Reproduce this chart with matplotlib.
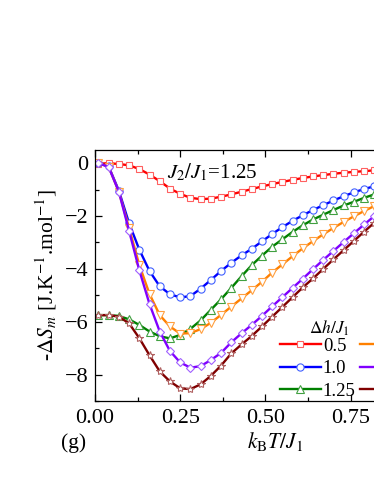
import matplotlib
matplotlib.use("Agg")
import matplotlib.pyplot as plt
from matplotlib.ticker import MultipleLocator

plt.rcParams['font.family'] = ['Liberation Serif', 'DejaVu Serif']
plt.rcParams['mathtext.fontset'] = 'stix'

T = [0.01, 0.04, 0.07, 0.10, 0.13, 0.16, 0.19, 0.22, 0.25, 0.28, 0.31, 0.34, 0.37, 0.40,
     0.43, 0.46, 0.49, 0.52, 0.55, 0.58, 0.61, 0.64, 0.67, 0.70, 0.73, 0.76, 0.79, 0.82]

s_05 = [-0.02, 0.0, -0.03, -0.08, -0.22, -0.43, -0.68, -0.96, -1.16, -1.31, -1.36, -1.34, -1.27, -1.18,
        -1.08, -0.98, -0.88, -0.79, -0.71, -0.63, -0.56, -0.50, -0.45, -0.40, -0.36, -0.33, -0.30, -0.27]
s_10 = [0.0, -0.12, -1.04, -2.27, -3.27, -4.08, -4.66, -4.96, -5.08, -5.03, -4.75, -4.42, -4.08, -3.77,
        -3.49, -3.24, -2.96, -2.68, -2.42, -2.18, -1.97, -1.77, -1.59, -1.41, -1.25, -1.10, -0.98, -0.87]
s_125 = [-5.75, -5.75, -5.78, -5.91, -6.12, -6.37, -6.55, -6.63, -6.50, -6.27, -5.95, -5.55, -5.15, -4.72,
         -4.28, -3.86, -3.50, -3.16, -2.88, -2.60, -2.35, -2.13, -1.95, -1.77, -1.60, -1.46, -1.31, -1.18]
s_15 = [0.0, -0.13, -1.08, -2.45, -3.85, -4.95, -5.75, -6.18, -6.45, -6.43, -6.28, -6.04, -5.74, -5.43,
        -5.12, -4.81, -4.49, -4.14, -3.83, -3.52, -3.22, -2.95, -2.69, -2.45, -2.22, -2.01, -1.81, -1.62]
s_20 = [0.0, -0.14, -1.08, -2.56, -4.05, -5.33, -6.37, -7.11, -7.54, -7.74, -7.68, -7.45, -7.18, -6.78,
        -6.44, -6.12, -5.78, -5.42, -5.07, -4.72, -4.37, -4.01, -3.66, -3.32, -2.98, -2.65, -2.32, -2.00]
s_25 = [-5.75, -5.75, -5.81, -6.06, -6.62, -7.27, -7.88, -8.26, -8.52, -8.55, -8.37, -8.05, -7.66, -7.20,
        -6.86, -6.54, -6.18, -5.81, -5.44, -5.07, -4.70, -4.36, -4.00, -3.64, -3.29, -2.94, -2.59, -2.25]

labels = ['0.5', '1.0', '1.25', '1.5', '2.0', '2.5']
series = [s_05, s_10, s_125, s_15, s_20, s_25]
colors = ['#ff0000', '#0000ff', '#008000', '#ff8000', '#8000ff', '#800000']
edge_colors = ['#ff6060', '#4060ff', '#40a040', '#ffa040', '#a060ff', '#b06060']
markers = ['s', 'o', '^', 'v', 'D', '*']
msizes = [4.8, 5.2, 5.4, 5.4, 4.4, 6.0]

fig = plt.figure(figsize=(3.74, 4.84), dpi=100)
ax = fig.add_axes([0.254, 0.1715, 0.911, 0.5186])

for y, lab, c, ec, m, ms in zip(series, labels, colors, edge_colors, markers, msizes):
    ax.plot(T, y, color=c, lw=1.7, marker=m, ms=ms, mfc='white', mec=ec, mew=0.8, label=lab)

ax.set_xlim(0, 1.0)
ax.set_ylim(-9, 0.5)
ax.xaxis.set_major_locator(MultipleLocator(0.25))
ax.xaxis.set_minor_locator(MultipleLocator(0.125))
ax.yaxis.set_major_locator(MultipleLocator(2))
ax.yaxis.set_minor_locator(MultipleLocator(1))
ax.xaxis.set_major_formatter(matplotlib.ticker.FormatStrFormatter('%.2f'))
ax.tick_params(which='both', direction='in', top=True, right=True, labelsize=16)
ax.tick_params(which='major', length=5, width=0.9)
ax.tick_params(which='minor', length=3, width=0.9)
ax.tick_params(axis='x', pad=6)
ax.tick_params(axis='y', pad=5)
for sp in ax.spines.values():
    sp.set_linewidth(0.9)

ax.set_ylabel(r'-$\Delta S_m$ [J.K$^{-1}$.mol$^{-1}$]', fontsize=15.5, labelpad=4)
fig.text(0.735, 0.088, r'$k_{\rm B}T/J_1$', fontsize=15.5, ha='center', va='center')
fig.text(0.198, 0.085, '(g)', fontsize=15.5, ha='center', va='center')
ax.text(0.211, -0.36, r'$J_2/J_1$=1.25', fontsize=15, ha='left', va='center')
fig.text(0.88, 0.322, r'$\Delta h/J_1$', fontsize=12.5, ha='center', va='center')

handles, labs = ax.get_legend_handles_labels()
leg = ax.legend(handles, labs, ncol=2, frameon=False, fontsize=13.5,
                loc='upper left', bbox_to_anchor=(0.748, 0.302), bbox_transform=fig.transFigure,
                handlelength=2.2, handletextpad=0.1, columnspacing=0.2, labelspacing=0.28,
                borderaxespad=0, borderpad=0)

fig.savefig('out.png', dpi=100)
